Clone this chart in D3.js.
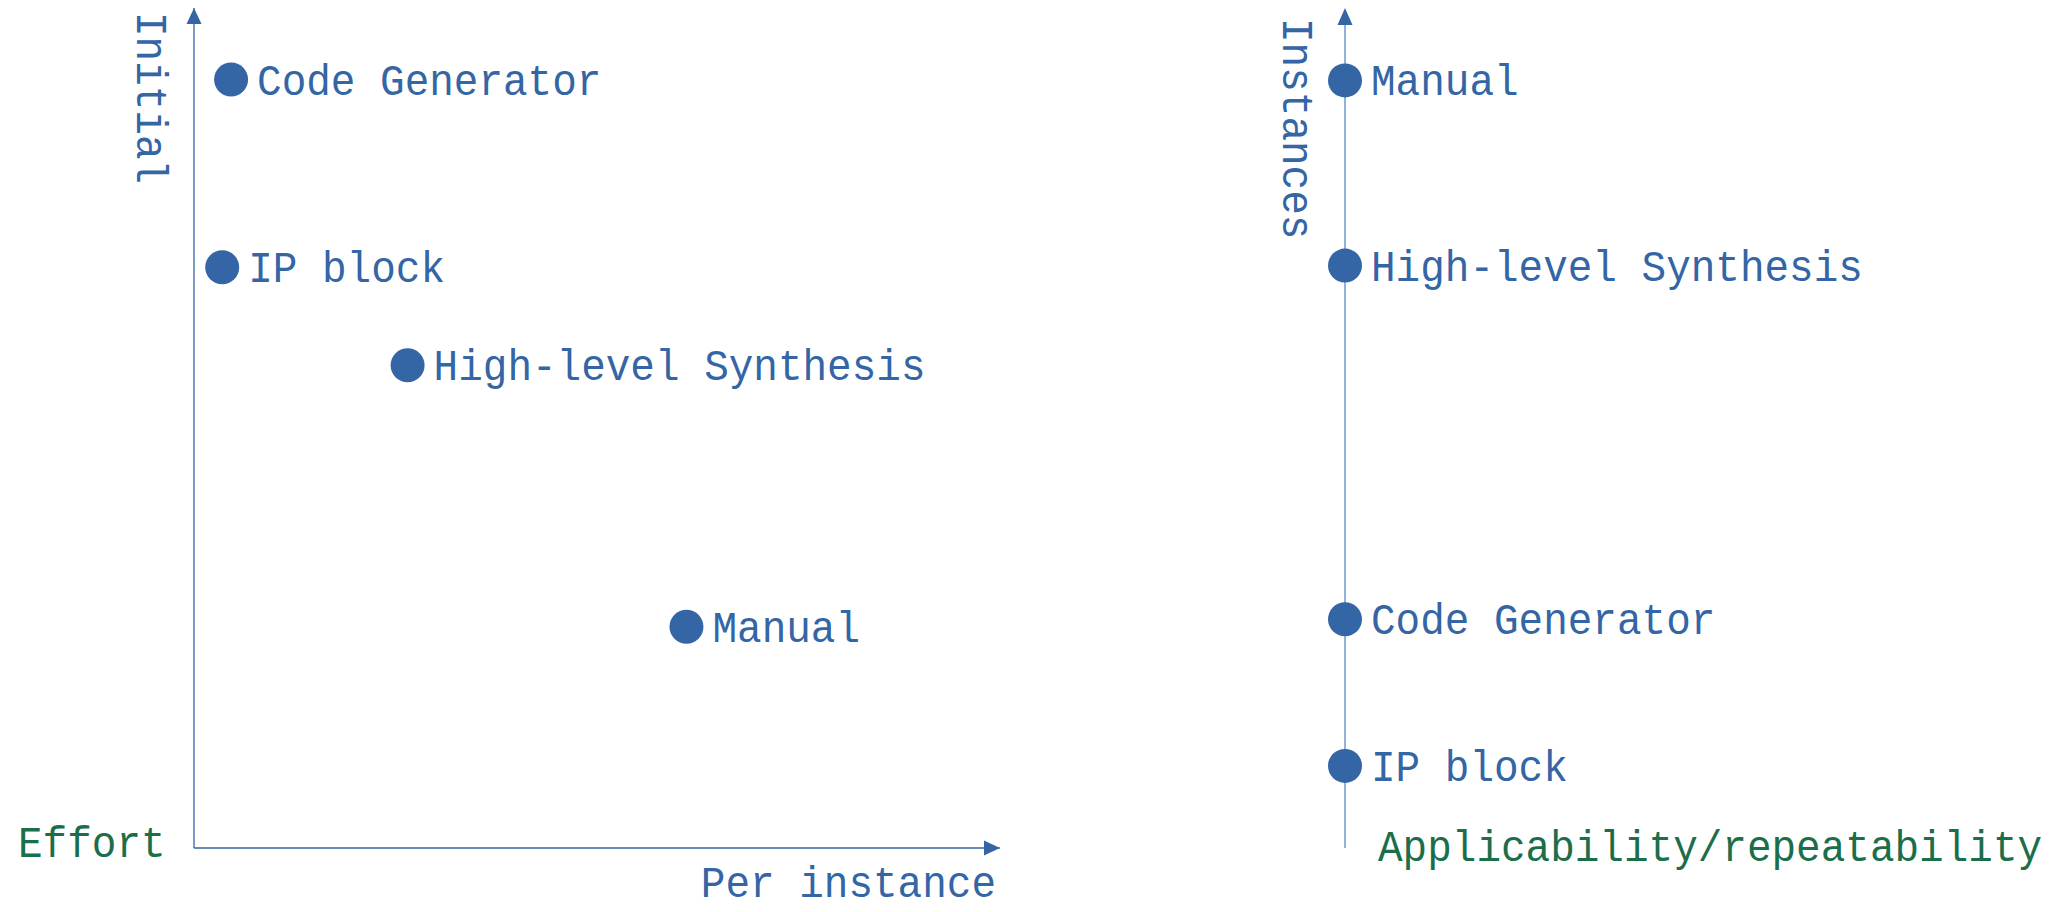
<!DOCTYPE html>
<html>
<head>
<meta charset="utf-8">
<script src="https://cdn.jsdelivr.net/npm/d3@7"></script>
<style>
  html, body { margin: 0; padding: 0; background: #fff; }
  svg text { font-family: "Liberation Mono", "DejaVu Sans Mono", monospace; font-size: 41px; }
</style>
</head>
<body>
<svg id="svg" width="2055" height="912"></svg>
<script>
// effort chart: per-instance effort (x) vs initial effort (y)
var effortNames = ["Code Generator", "IP block", "High-level Synthesis", "Manual"];
var effortPerInstance = [0.46, 0.35, 2.65, 6.11];
var effortInitial = [9.17, 6.93, 5.76, 2.64];

// applicability chart: instances along a single axis
var applyNames = ["Manual", "High-level Synthesis", "Code Generator", "IP block"];
var applyInstances = [9.16, 6.95, 2.73, 0.98];

var blue = "#3465a4", green = "#1b6e4a", lightBlue = "#93b1dc";
var r = 17;
var stretch = 1.08; // typewriter glyphs in the original are a bit taller

var svg = d3.select("#svg");

var defs = svg.append("defs");
defs.append("marker")
  .attr("id", "arrow")
  .attr("viewBox", "0 0 16 16")
  .attr("refX", 16).attr("refY", 8)
  .attr("markerWidth", 16).attr("markerHeight", 16)
  .attr("markerUnits", "userSpaceOnUse")
  .attr("orient", "auto")
  .append("path")
    .attr("d", "M0,0.5L16,8L0,15.5Z")
    .attr("fill", blue);

var y = d3.scaleLinear().domain([0, 10]).range([848, 10]);
var x = d3.scaleLinear().domain([0, 10]).range([194, 1000]);

function label(g, tx, ty, rot, str, color, anchor) {
  return g.append("text")
    .attr("transform", "translate(" + tx + "," + ty + ")" + (rot ? " rotate(" + rot + ")" : "") + " scale(1," + stretch + ")")
    .attr("text-anchor", anchor || "start")
    .attr("fill", color)
    .text(str);
}

// ---- left chart
var left = svg.append("g");

left.append("line")
  .attr("x1", x(0)).attr("y1", y(0))
  .attr("x2", x(0)).attr("y2", y(10) - 2)
  .attr("stroke", blue).attr("stroke-width", 1.3)
  .attr("marker-end", "url(#arrow)");
left.append("line")
  .attr("x1", x(0)).attr("y1", y(0))
  .attr("x2", x(10)).attr("y2", y(0))
  .attr("stroke", blue).attr("stroke-width", 1.3)
  .attr("marker-end", "url(#arrow)");

label(left, 137, y(10) + 2, 90, "Initial", blue);
label(left, 18, 857, 0, "Effort", green);
label(left, x(10) - 4, 897, 0, "Per instance", blue, "end");

var pts = left.selectAll("g.pt")
  .data(effortNames.map(function(n, i) { return { name: n, x: effortPerInstance[i], y: effortInitial[i] }; }))
  .enter().append("g").attr("class", "pt");
pts.append("circle")
  .attr("cx", function(d) { return x(d.x); })
  .attr("cy", function(d) { return y(d.y); })
  .attr("r", r)
  .attr("fill", blue);
pts.append("text")
  .attr("transform", function(d) {
    return "translate(" + (x(d.x) + r + 9) + "," + (y(d.y) + 15) + ") scale(1," + stretch + ")";
  })
  .attr("fill", blue)
  .text(function(d) { return d.name; });

// ---- right chart
var ax = 1345;
var right = svg.append("g");

right.append("line")
  .attr("x1", ax).attr("y1", y(0))
  .attr("x2", ax).attr("y2", y(10) + 10)
  .attr("stroke", lightBlue).attr("stroke-width", 2);
right.append("path")
  .attr("d", "M" + (ax - 7.5) + "," + (y(10) + 15) + "L" + ax + "," + (y(10) - 2) + "L" + (ax + 7.5) + "," + (y(10) + 15) + "Z")
  .attr("fill", blue);

label(right, 1283, y(10) + 8, 90, "Instances", blue);
label(right, 1378, 861, 0, "Applicability/repeatability", green);

var rpts = right.selectAll("g.pt")
  .data(applyNames.map(function(n, i) { return { name: n, y: applyInstances[i] }; }))
  .enter().append("g").attr("class", "pt");
rpts.append("circle")
  .attr("cx", ax)
  .attr("cy", function(d) { return y(d.y); })
  .attr("r", r)
  .attr("fill", blue);
rpts.append("text")
  .attr("transform", function(d) {
    return "translate(" + (ax + r + 9) + "," + (y(d.y) + 15) + ") scale(1," + stretch + ")";
  })
  .attr("fill", blue)
  .text(function(d) { return d.name; });
</script>
</body>
</html>
